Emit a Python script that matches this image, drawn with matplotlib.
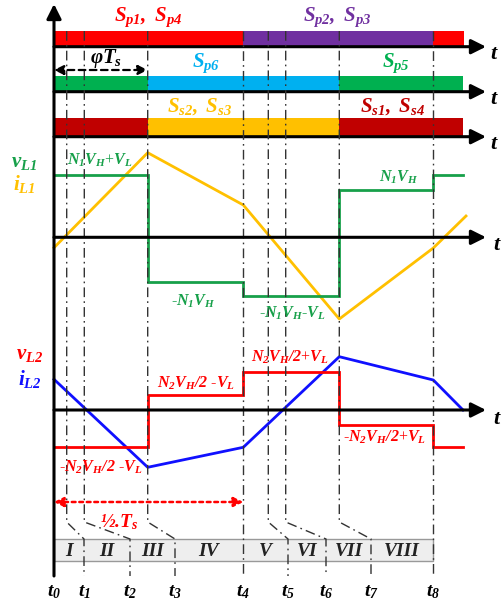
import matplotlib.pyplot as plt
from matplotlib.patches import Rectangle

plt.rcParams['font.family'] = ['Liberation Serif', 'DejaVu Serif']
plt.rcParams['mathtext.fontset'] = 'custom'
plt.rcParams['mathtext.it'] = 'Liberation Serif:bold:italic'
plt.rcParams['mathtext.rm'] = 'Liberation Serif:bold:italic'
plt.rcParams['mathtext.bf'] = 'Liberation Serif:bold:italic'

# switching instants along the time axis (t0 = 0)
t_ev = [0, 12.7, 30.3, 93.7, 189.3, 214.3, 231.7, 285.3, 379.3]
# where t1..t8 land on the interval bar
t_lab = [0, 30, 76, 121, 189, 234, 272, 317, 379]
t_names = ['t_0', 't_1', 't_2', 't_3', 't_4', 't_5', 't_6', 't_7', 't_8']
intervals = ['I', 'II', 'III', 'IV', 'V', 'VI', 'VII', 'VIII']

# gate signals: (start, end, colour)
gate_p14 = [(0, 189.3, '#ff0000'), (189.3, 379.3, '#7030a0'), (379.3, 410, '#ff0000')]
gate_p56 = [(0, 93.7, '#00b050'), (93.7, 285.3, '#00b0f0'), (285.3, 409, '#00b050')]
gate_s = [(0, 93.7, '#c00000'), (93.7, 285.3, '#ffc000'), (285.3, 409, '#c00000')]

# inductor L1 voltage (step) and current (piecewise linear)
vL1_t = [0, 93.7, 189.3, 285.3, 379.3, 409]
vL1 = [62.3, -44.4, -58.7, 47.3, 62.3]
iL1_t = [0, 93.7, 189.3, 285.3, 379.3, 412]
iL1 = [-10.4, 84.6, 32.3, -81.7, -10.7, 21.3]

# inductor L2 voltage and current
vL2_t = [0, 93.7, 189.3, 285.3, 379.3, 409]
vL2 = [-37.3, 15, 38.3, -15, -37.3]
iL2_t = [0, 93.7, 189.3, 285.3, 379.3, 409]
iL2 = [30.7, -57.3, -37.3, 53.3, 30, 0]

X0 = 54            # vertical axis position
Y1, Y2 = 237.3, 410  # waveform zero lines
green, orange, red, blue = '#17a04a', '#ffc000', '#ff0000', '#1010ff'
ddash = (0, (7, 3, 1.2, 3))

fig = plt.figure(figsize=(5.02, 6.05), dpi=100)
ax = fig.add_axes([0, 0, 1, 1])
ax.set_xlim(0, 502)
ax.set_ylim(605, 0)
ax.axis('off')


def arrow(x0, y0, x1, y1, **kw):
    ax.annotate('', xy=(x1, y1), xytext=(x0, y0),
                arrowprops=dict(arrowstyle='-|>', mutation_scale=22, lw=2.2,
                                color='k', shrinkA=0, shrinkB=0, **kw))


def step(ts, levels, y0, color):
    xs, ys = [], []
    for i, v in enumerate(levels):
        xs += [X0 + ts[i], X0 + ts[i + 1]]
        ys += [y0 - v, y0 - v]
    ax.plot(xs, ys, color=color, lw=2, solid_joinstyle='miter')


# gate bars
for bars, top, base in [(gate_p14, 30.7, 46.7), (gate_p56, 76, 91.7), (gate_s, 118, 136.7)]:
    for a, b, c in bars:
        ax.add_patch(Rectangle((X0 + a, top), b - a, base - top, color=c, lw=0))
    arrow(X0, base, 486, base)
    ax.text(490, base + 8, r'$t$', fontsize=16, ha='left', va='center')

# switching instant guide lines
for i in range(1, 9):
    x = X0 + t_ev[i]
    xl = X0 + t_lab[i]
    if abs(x - xl) < 1:
        ax.plot([x, x], [31, 576], color='#333333', lw=1, ls=ddash, zorder=3)
    else:
        ax.plot([x, x, xl, xl], [31, 522, 539, 576], color='#333333', lw=1, ls=ddash, zorder=3)

# vertical axis
arrow(X0, 576, X0, 4)

# gate labels
ax.text(148, 17, r'$S_{p1},\ S_{p4}$', color='#ff0000', fontsize=15, ha='center', va='center')
ax.text(337, 17, r'$S_{p2},\ S_{p3}$', color='#7030a0', fontsize=15, ha='center', va='center')
ax.text(206, 63, r'$S_{p6}$', color='#00b0f0', fontsize=15, ha='center', va='center')
ax.text(396, 63, r'$S_{p5}$', color='#00b050', fontsize=15, ha='center', va='center')
ax.text(200, 107, r'$S_{s2},\ S_{s3}$', color='#ffc000', fontsize=15, ha='center', va='center')
ax.text(393, 107, r'$S_{s1},\ S_{s4}$', color='#c00000', fontsize=15, ha='center', va='center')

# phase shift arrow
ax.annotate('', xy=(X0 + t_ev[3], 70), xytext=(X0, 70),
            arrowprops=dict(arrowstyle='<|-|>', mutation_scale=14, lw=1.6, ls=(0, (3, 2)),
                            color='k', shrinkA=0, shrinkB=0))
ax.text(106, 58, r'$\varphi T_s$', fontsize=15, ha='center', va='center')

# L1 waveforms
arrow(X0, Y1, 486, Y1)
ax.text(493, Y1 + 8, r'$t$', fontsize=16, ha='left', va='center')
ax.plot([X0 + t for t in iL1_t], [Y1 - v for v in iL1], color=orange, lw=2)
step(vL1_t, vL1, Y1, green)
ax.text(24, 162, r'$v_{L1}$', color=green, fontsize=15, ha='center', va='center')
ax.text(24, 184, r'$i_{L1}$', color=orange, fontsize=15, ha='center', va='center')
ax.text(100, 160, r'$N_1V_H$+$V_L$', color=green, fontsize=11.5, ha='center', va='center')
ax.text(193, 301, r'-$N_1V_H$', color=green, fontsize=11.5, ha='center', va='center')
ax.text(292, 313, r'-$N_1V_H$-$V_L$', color=green, fontsize=11.5, ha='center', va='center')
ax.text(399, 177, r'$N_1V_H$', color=green, fontsize=11.5, ha='center', va='center')

# L2 waveforms
arrow(X0, Y2, 486, Y2)
ax.text(493, Y2 + 9, r'$t$', fontsize=16, ha='left', va='center')
ax.plot([X0 + t for t in iL2_t], [Y2 - v for v in iL2], color=blue, lw=2)
step(vL2_t, vL2, Y2, red)
ax.text(30, 354, r'$v_{L2}$', color=red, fontsize=15, ha='center', va='center')
ax.text(30, 379, r'$i_{L2}$', color=blue, fontsize=15, ha='center', va='center')
ax.text(196, 383, r'$N_2V_H/2$ -$V_L$', color=red, fontsize=11.5, ha='center', va='center')
ax.text(101, 467, r'-$N_2V_H/2$ -$V_L$', color=red, fontsize=11.5, ha='center', va='center')
ax.text(290, 357, r'$N_2V_H/2$+$V_L$', color=red, fontsize=11.5, ha='center', va='center')
ax.text(385, 437, r'-$N_2V_H/2$+$V_L$', color=red, fontsize=11.5, ha='center', va='center')

# half period arrow
ax.annotate('', xy=(X0 + t_ev[4], 502), xytext=(X0, 502),
            arrowprops=dict(arrowstyle='<|-|>', mutation_scale=14, lw=1.8, ls=(0, (1.5, 1.5)),
                            color=red, shrinkA=0, shrinkB=0))
ax.text(119, 522, r'½.$T_s$', color=red, fontsize=14, fontweight='bold', style='italic',
        ha='center', va='center')

# interval bar
ax.add_patch(Rectangle((X0, 539), t_lab[8], 22, facecolor='#eeeeee', edgecolor='#999999', lw=1))
for i in range(8):
    xc = X0 + (t_lab[i] + t_lab[i + 1]) / 2
    ax.text(xc, 551, intervals[i], fontsize=14, fontweight='bold', style='italic',
            color='#222222', ha='center', va='center')
for i in range(9):
    ax.text(X0 + t_lab[i], 592, '$' + t_names[i] + '$', fontsize=14, ha='center', va='center')

fig.savefig('out.png', dpi=100)
